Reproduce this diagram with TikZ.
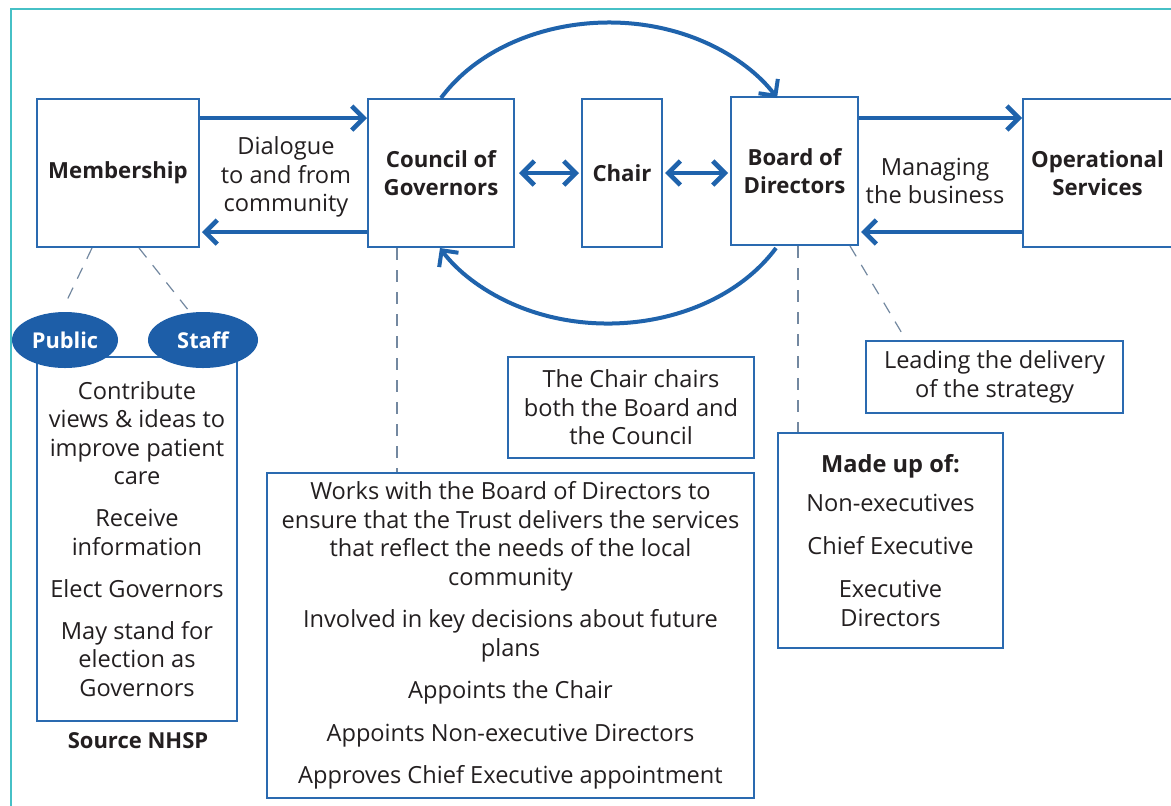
\documentclass[tikz,border=0pt]{standalone}
\usepackage{fontspec}
\setmainfont{Open Sans}
\usetikzlibrary{arrows.meta,shapes.geometric,calc}
\definecolor{boxblue}{HTML}{2A6AB0}
\definecolor{arrblue}{HTML}{1F63AC}
\definecolor{ellblue}{HTML}{1D5EA8}
\definecolor{bordteal}{HTML}{46C0C6}
\definecolor{txt}{HTML}{231F20}
\definecolor{dashc}{HTML}{7388A0}
\begin{document}
\begin{tikzpicture}[x=0.5pt,y=0.5pt,
 bx/.style={draw=boxblue,line width=1pt,inner sep=0pt,align=center,text=txt,font=\fontsize{11.8}{14.25}\selectfont},
 lbl/.style={bx,font=\fontsize{11.1}{14}\selectfont\bfseries},
 txtnode/.style={text=txt,align=center,inner sep=0pt,font=\fontsize{11.8}{14.25}\selectfont},
 arr/.style={draw=arrblue,line width=2.3pt,-{Straight Barb[length=6pt,width=12pt]}},
 darr/.style={draw=arrblue,line width=2.3pt,{Straight Barb[length=6pt,width=12pt]}-{Straight Barb[length=6pt,width=12pt]}},
 dashline/.style={draw=dashc,line width=0.6pt,dash pattern=on 6pt off 5pt},
 oval/.style={ellipse,fill=ellblue,minimum height=28pt,inner sep=0pt,text=white,font=\fontsize{10.9}{14}\selectfont\bfseries}]
\useasboundingbox (0,0) rectangle (1171,-805);
\fill[white] (0,0) rectangle (1171,-805);
\draw[bordteal,line width=1.2pt] (11,-9) rectangle (1200,-840);

% top row
\node[lbl,minimum width=81pt,minimum height=74pt] (mem) at (118,-173) {Membership};
\node[lbl,minimum width=73pt,minimum height=74pt] (cou) at (441,-173) {Council of\\Governors};
\node[lbl,minimum width=40pt,minimum height=74pt] (chair) at (622,-173) {Chair};
\node[lbl,minimum width=63.5pt,minimum height=74pt] (board) at (794.5,-171) {Board of\\Directors};
\node[lbl,minimum width=74.5pt,minimum height=74pt] (ops) at (1097.5,-173) {Operational\\Services};

\node[txtnode] (dlg) at (286,-177) {Dialogue\\to and from\\community};
\node[txtnode] (mng) at (935,-181) {Managing\\the business};

\draw[arr] (mem.east |- 0,-118) -- (cou.west |- 0,-118);
\draw[arr,shorten >=1pt] (cou.west |- 0,-232) -- (mem.east |- 0,-232);
\draw[darr,shorten <=2pt,shorten >=1pt] (cou.east) -- (chair.west);
\draw[darr,shorten <=1pt,shorten >=1pt] (chair.east) -- (board.west |- chair.east);
\draw[arr] (board.east |- 0,-118) -- (ops.west |- 0,-118);
\draw[arr,shorten >=1pt] (ops.west |- 0,-232) -- (board.east |- 0,-232);

% arcs
\draw[arr,line width=2pt] (cou.north) arc[start angle=150,end angle=30,x radius=97pt,y radius=75.5pt];
\coordinate (b1) at ($(board.south west)+(46,-2)$);
\draw[arr,line width=2pt] (b1) arc[start angle=-30,end angle=-150,x radius=97pt,y radius=75.5pt];

% lower boxes
\node[bx,minimum width=128.5pt,minimum height=36pt] (lead) at (994.5,-377) {Leading the delivery\\of the strategy};
\node[bx,minimum width=112.5pt,minimum height=107.5pt] (made) at (890.5,-540.5) {\textbf{Made up of:}\\[5.25pt]Non-executives\\[7.25pt]Chief Executive\\[7.25pt]Executive\\Directors};
\node[bx,minimum width=123pt,minimum height=50.5pt] (cc) at (631,-407.5) {The Chair chairs\\both the Board and\\the Council};
\node[bx,minimum width=243.5pt,minimum height=162.5pt] (big) at (510.5,-635.5) {Works with the Board of Directors to\\ensure that the Trust delivers the services\\that reflect the needs of the local\\community\\[7pt]Involved in key decisions about future\\plans\\[7pt]Appoints the Chair\\[7pt]Appoints Non-executive Directors\\[7pt]Approves Chief Executive appointment};
\node[bx,minimum width=100pt,minimum height=182pt] (mbox) at (137,-539) {Contribute\\views \& ideas to\\improve patient\\care\\[6.75pt]Receive\\information\\[6.75pt]Elect Governors\\[6.75pt]May stand for\\election as\\Governors};

\node[oval,minimum width=53pt] (pub) at (65,-340) {Public};
\node[oval,minimum width=55pt] (staff) at (203,-340) {Staff};

\node[txtnode,font=\fontsize{11}{14}\selectfont\bfseries] (src) at (138,-741) {Source NHSP};

% dashed connectors
\coordinate (d1) at ($(cou.south west)+(30,0)$);
\draw[dashline] (d1) -- (d1 |- big.north);
\coordinate (d2) at ($(board.south west)+(68,0)$);
\draw[dashline] (d2) -- (d2 |- made.north);
\coordinate (d3) at ($(board.south east)+(-9,0)$);
\draw[dashline] (d3) -- ($(lead.north west)+(41,0)$);
\coordinate (m1) at ($(mem.south west)+(56,0)$);
\coordinate (m2) at ($(mem.south west)+(103,0)$);
\draw[dashline,shorten >=5pt] (m1) -- (pub.97);
\draw[dashline] (m2) -- (staff.115);
\end{tikzpicture}
\end{document}
